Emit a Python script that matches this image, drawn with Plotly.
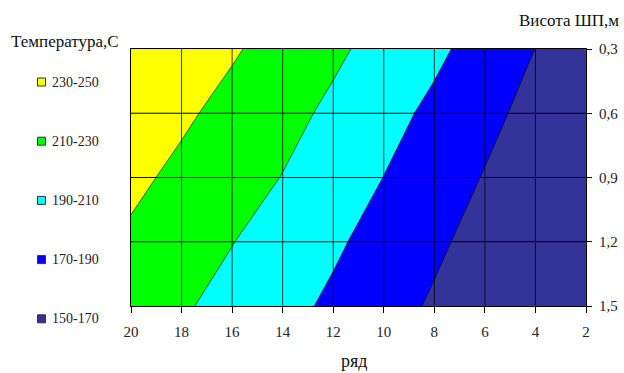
import plotly.graph_objects as go

# ---- data ----
rows_x = [2, 4, 6, 8, 10, 12, 14, 16, 18, 20]          # "ряд"
height_y = [0.3, 0.6, 0.9, 1.2, 1.5]                   # "Висота ШП,м"
temp_03 = [157.0, 169.8, 182.0, 194.0, 203.6, 213.4, 222.7, 232.0, 241.3, 249.5]
temp_06 = [153.0, 164.1, 175.0, 185.9, 196.3, 206.4, 215.6, 224.3, 233.0, 241.7]
temp_09 = [151.0, 158.5, 169.0, 179.4, 189.8, 199.7, 209.5, 217.7, 225.9, 234.0]
temp_12 = [150.5, 153.4, 163.4, 173.3, 183.2, 192.8, 201.7, 210.5, 218.8, 227.1]
temp_15 = [150.2, 151.0, 158.1, 167.7, 177.2, 186.7, 195.5, 203.9, 212.2, 220.4]

band_labels = ["230-250", "210-230", "190-210", "170-190", "150-170"]
band_colors = ["#FFFF00", "#00FF00", "#00FFFF", "#0000FF", "#333399"]

x_ticks = [20, 18, 16, 14, 12, 10, 8, 6, 4, 2]
y_ticks = [0.3, 0.6, 0.9, 1.2, 1.5]

# ---- layout geometry (pixels) ----
W, H = 624, 373
L, R, T, B = 131, 586, 49, 306
PW, PH = R - L, B - T


def px(xp):
    return (xp - L) / PW


def py(yp):
    return (B - yp) / PH


FONT = "Liberation Serif, Times New Roman, serif"

z = [temp_03, temp_06, temp_09, temp_12, temp_15]
# colour for each band, lowest first
cs_colors = band_colors[::-1]
colorscale = [[i / (len(cs_colors) - 1), c] for i, c in enumerate(cs_colors)]

fig = go.Figure()
fig.add_trace(go.Contour(
    x=rows_x, y=height_y, z=z,
    contours=dict(start=170, end=230, size=20, coloring="fill"),
    colorscale=colorscale,
    line=dict(color="#000000", width=0.6, smoothing=0),
    showscale=False,
    hoverinfo="x+y+z",
))

shapes = []
# gridlines above the fills
for xv in x_ticks[1:-1]:
    shapes.append(dict(type="line", xref="x", yref="paper", x0=xv, x1=xv, y0=0, y1=1,
                       line=dict(color="rgba(0,0,0,0.75)", width=1), layer="above"))
for yv in y_ticks[1:-1]:
    shapes.append(dict(type="line", xref="paper", yref="y", x0=0, x1=1, y0=yv, y1=yv,
                       line=dict(color="#000000", width=1), layer="above"))

annotations = []
# manual legend
for i, (lab, col) in enumerate(zip(band_labels, band_colors)):
    cy = 82 + i * 59.2
    shapes.append(dict(type="rect", xref="paper", yref="paper",
                       x0=px(37.5), x1=px(45.5), y0=py(cy + 4), y1=py(cy - 4),
                       fillcolor=col, line=dict(color="#333333", width=1), layer="above"))
    annotations.append(dict(text=lab, xref="paper", yref="paper", x=px(50), y=py(cy),
                            xanchor="left", yanchor="middle", showarrow=False,
                            font=dict(family=FONT, size=14, color="#222222")))

annotations.append(dict(text="Температура,С", xref="paper", yref="paper", x=px(9), y=py(41),
                        xanchor="left", yanchor="middle", showarrow=False,
                        font=dict(family=FONT, size=17, color="#111111")))
annotations.append(dict(text="Висота ШП,м", xref="paper", yref="paper", x=px(621), y=py(21),
                        xanchor="right", yanchor="middle", showarrow=False,
                        font=dict(family=FONT, size=17, color="#111111")))
annotations.append(dict(text="ряд", xref="paper", yref="paper", x=px(354), y=py(361),
                        xanchor="center", yanchor="middle", showarrow=False,
                        font=dict(family=FONT, size=18, color="#111111")))

fig.update_layout(
    width=W, height=H,
    margin=dict(l=L, r=W - R, t=T, b=H - B, pad=0),
    paper_bgcolor="white", plot_bgcolor="white",
    separators=", ",
    showlegend=False,
    shapes=shapes,
    annotations=annotations,
    font=dict(family=FONT, size=14, color="#222222"),
    xaxis=dict(range=[20, 2], tickvals=x_ticks, ticks="outside", ticklen=6,
               tickcolor="#000000", showgrid=False, zeroline=False, automargin=False,
               showline=True, linecolor="#000000", linewidth=1, mirror=True,
               ticklabelstandoff=6, tickfont=dict(family=FONT, size=15)),
    yaxis=dict(range=[1.5, 0.3], side="right", tickvals=y_ticks, tickformat=".1f",
               ticks="outside", ticklen=5, tickcolor="#000000", showgrid=False,
               zeroline=False, automargin=False, showline=True, linecolor="#000000",
               linewidth=1, mirror=True, ticklabelstandoff=4,
               tickfont=dict(family=FONT, size=15)),
)

fig.write_html("out.html", config={"displayModeBar": False},
               post_script="document.body.style.margin='0';document.body.style.padding='0';")
